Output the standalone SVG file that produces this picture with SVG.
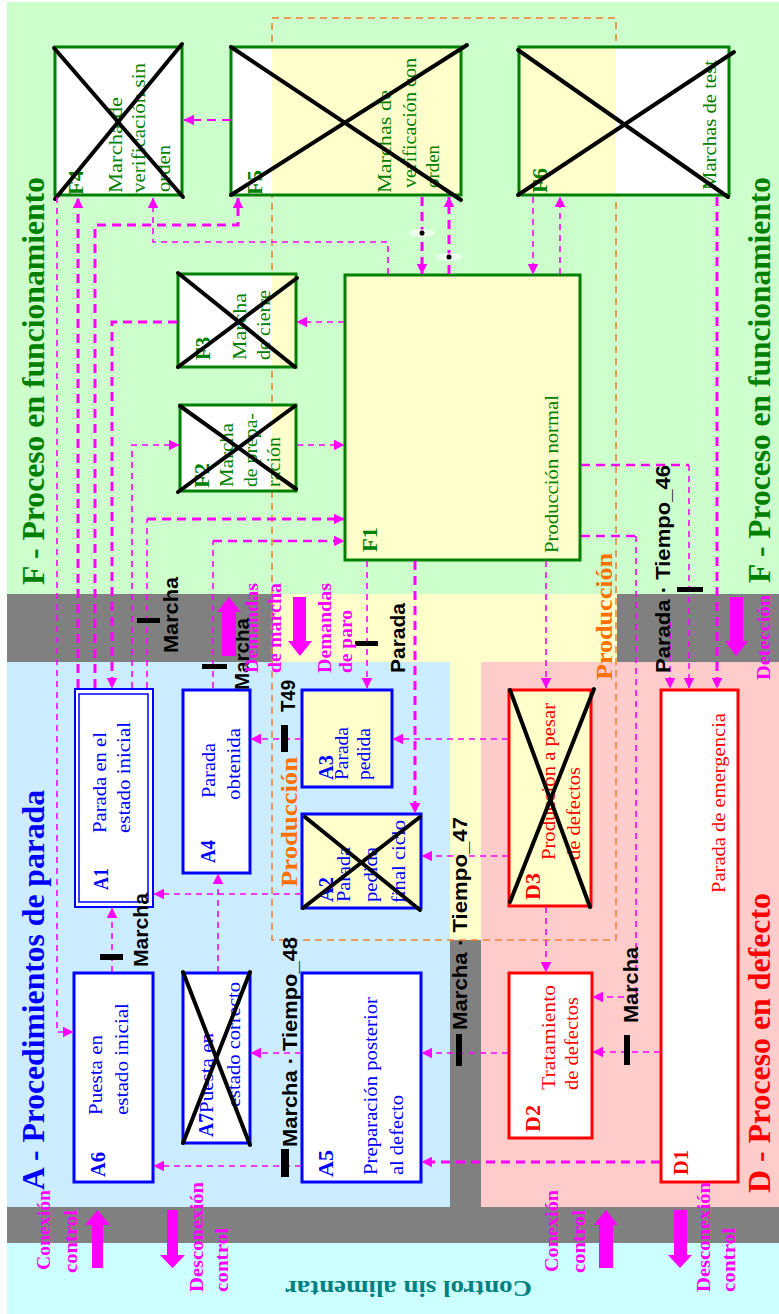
<svg xmlns="http://www.w3.org/2000/svg" width="779" height="1314" viewBox="0 0 779 1314">
<style>
.s{font-family:"Liberation Serif","Times New Roman",serif}
.ss{font-family:"Liberation Sans",Arial,sans-serif;font-weight:bold;font-size:20px;fill:#000}
.tg{fill:#008000;font-size:19px}
.tgb{fill:#008000;font-size:22px;font-weight:bold}
.tb{fill:#0000FF;font-size:19px}
.tbb{fill:#0000FF;font-size:21px;font-weight:bold}
.tr{fill:#FF0000;font-size:19px}
.trb{fill:#FF0000;font-size:21px;font-weight:bold}
.mg{fill:#FF00FF;font-size:19px;font-weight:bold}
.or{fill:#FF7000;font-size:23px;font-weight:bold}
.ti{font-size:31px;font-weight:bold}
.bx{stroke-width:3}
.fg{stroke:#008000}.fb{stroke:#0000FF}.fr{stroke:#FF0000}
.x{stroke:#000;stroke-width:4;stroke-linecap:round}
.c1{fill:none;stroke:#FF00FF;stroke-width:1.6;stroke-dasharray:6 5}
.c2{fill:none;stroke:#FF00FF;stroke-width:3;stroke-dasharray:9 6}
.bar{fill:#000}
.blk{fill:#FF00FF}
</style>
<defs>
<marker id="ah" viewBox="0 0 10 10" refX="9.5" refY="5" markerWidth="11" markerHeight="11" markerUnits="userSpaceOnUse" orient="auto"><path d="M0,0 L10,5 L0,10 z" fill="#FF00FF"/></marker>
</defs>

<g id="background">
<rect x="0" y="0" width="779" height="1314" fill="#FFFFFF"/>
<rect x="7" y="2" width="772" height="592" fill="#CCFFCC"/>
<rect x="7" y="594" width="266" height="68" fill="#808080"/>
<rect x="273" y="594" width="344" height="68" fill="#FFFFCC"/>
<rect x="617" y="594" width="162" height="68" fill="#808080"/>
<rect x="7" y="662" width="443" height="545" fill="#CCECFF"/>
<rect x="450" y="662" width="31" height="278" fill="#FFFFCC"/>
<rect x="450" y="940" width="31" height="267" fill="#808080"/>
<rect x="481" y="662" width="298" height="545" fill="#FFCCCC"/>
<rect x="7" y="1207" width="772" height="36" fill="#808080"/>
<rect x="7" y="1243" width="772" height="71" fill="#CCFFFF"/>
<rect x="272" y="18" width="344" height="922" fill="none" stroke="#F08030" stroke-width="1.5" stroke-dasharray="7 5"/>
</g>

<g id="titles" class="s">
<text class="ti" fill="#008000" transform="translate(44,585) rotate(-90)" textLength="408" lengthAdjust="spacingAndGlyphs">F - Proceso en funcionamiento</text>
<text class="ti" fill="#008000" transform="translate(770,583) rotate(-90)" textLength="406" lengthAdjust="spacingAndGlyphs">F - Proceso en funcionamiento</text>
<text class="ti" fill="#0000FF" transform="translate(44,1190) rotate(-90)" textLength="400" lengthAdjust="spacingAndGlyphs">A - Procedimientos de parada</text>
<text class="ti" fill="#FF0000" transform="translate(770,1193) rotate(-90)" textLength="300" lengthAdjust="spacingAndGlyphs">D - Proceso en defecto</text>
<text fill="#008080" font-size="23" font-weight="bold" transform="translate(532,1281) rotate(180)" textLength="247" lengthAdjust="spacingAndGlyphs">Control sin alimentar</text>
<text class="or" transform="translate(612,680) rotate(-90)" textLength="127" lengthAdjust="spacingAndGlyphs">Producción</text>
<text class="or" transform="translate(297,887) rotate(-90)" textLength="130" lengthAdjust="spacingAndGlyphs">Producción</text>
</g>

<g id="F4" class="s">
<rect x="55" y="47" width="127" height="148" fill="#FFFFFF" class="bx fg"/>
<text class="tgb" transform="translate(83,195) rotate(-90)" textLength="25" lengthAdjust="spacingAndGlyphs">F4</text>
<text class="tg" transform="translate(122,193) rotate(-90)" textLength="96" lengthAdjust="spacingAndGlyphs">Marcha de</text>
<text class="tg" transform="translate(145,193) rotate(-90)" textLength="130" lengthAdjust="spacingAndGlyphs">verificación sin</text>
<text class="tg" transform="translate(170,192) rotate(-90)" textLength="47" lengthAdjust="spacingAndGlyphs">orden</text>
<line x1="55" y1="199" x2="182" y2="44" class="x"/><line x1="54" y1="48" x2="183" y2="197" class="x"/>
</g>

<g id="F5" class="s">
<rect x="231" y="47" width="230" height="148" fill="#FFFFFF"/>
<rect x="272" y="47" width="189" height="148" fill="#FFFFCC"/>
<rect x="231" y="47" width="230" height="148" fill="none" class="bx fg"/>
<text class="tgb" transform="translate(262,195) rotate(-90)" textLength="25" lengthAdjust="spacingAndGlyphs">F5</text>
<text class="tg" transform="translate(391,193) rotate(-90)" textLength="103" lengthAdjust="spacingAndGlyphs">Marchas de</text>
<text class="tg" transform="translate(416,188) rotate(-90)" textLength="130" lengthAdjust="spacingAndGlyphs">verificación con</text>
<text class="tg" transform="translate(439,188) rotate(-90)" textLength="43" lengthAdjust="spacingAndGlyphs">orden</text>
<line x1="231" y1="195" x2="467" y2="45" class="x"/><line x1="231" y1="47" x2="461" y2="200" class="x"/>
</g>

<g id="F6" class="s">
<rect x="519" y="47" width="210" height="148" fill="#FFFFFF"/>
<rect x="519" y="47" width="97" height="148" fill="#FFFFCC"/>
<rect x="519" y="47" width="210" height="148" fill="none" class="bx fg"/>
<text class="tgb" transform="translate(547,193) rotate(-90)" textLength="25" lengthAdjust="spacingAndGlyphs">F6</text>
<text class="tg" transform="translate(716,190) rotate(-90)" textLength="130" lengthAdjust="spacingAndGlyphs">Marchas de test</text>
<line x1="518" y1="195" x2="734" y2="52" class="x"/><line x1="518" y1="50" x2="728" y2="197" class="x"/>
</g>

<g id="F3" class="s">
<rect x="178" y="274" width="118" height="93" fill="#FFFFFF"/>
<rect x="272" y="274" width="24" height="93" fill="#FFFFCC"/>
<rect x="178" y="274" width="118" height="93" fill="none" class="bx fg"/>
<text class="tgb" transform="translate(210,360) rotate(-90)" textLength="23" lengthAdjust="spacingAndGlyphs">F3</text>
<text class="tg" transform="translate(246,360) rotate(-90)" textLength="67" lengthAdjust="spacingAndGlyphs">Marcha</text>
<text class="tg" transform="translate(270,360) rotate(-90)" textLength="70" lengthAdjust="spacingAndGlyphs">de cierre</text>
<line x1="178" y1="367" x2="297" y2="278" class="x"/><line x1="178" y1="273" x2="295" y2="367" class="x"/>
</g>

<g id="F2" class="s">
<rect x="180" y="405" width="116" height="86" fill="#FFFFFF"/>
<rect x="272" y="405" width="24" height="86" fill="#FFFFCC"/>
<rect x="180" y="405" width="116" height="86" fill="none" class="bx fg"/>
<text class="tgb" transform="translate(209,488) rotate(-90)" textLength="25" lengthAdjust="spacingAndGlyphs">F2</text>
<text class="tg" transform="translate(233,487) rotate(-90)" textLength="64" lengthAdjust="spacingAndGlyphs">Marcha</text>
<text class="tg" transform="translate(257,487) rotate(-90)" textLength="74" lengthAdjust="spacingAndGlyphs">de prepa-</text>
<text class="tg" transform="translate(280,487) rotate(-90)" textLength="50" lengthAdjust="spacingAndGlyphs">ración</text>
<line x1="178" y1="492" x2="295" y2="406" class="x"/><line x1="180" y1="406" x2="296" y2="489" class="x"/>
</g>

<g id="F1" class="s">
<rect x="345" y="275" width="235" height="285" fill="#FFFFCC" class="bx fg"/>
<text class="tgb" transform="translate(377,552) rotate(-90)" textLength="25" lengthAdjust="spacingAndGlyphs">F1</text>
<text class="tg" transform="translate(558,553) rotate(-90)" textLength="158" lengthAdjust="spacingAndGlyphs">Producción normal</text>
</g>

<g id="A1" class="s">
<rect x="75" y="689" width="78" height="218" fill="#FFFFFF" stroke="#0000FF" stroke-width="2"/>
<rect x="79" y="694" width="69" height="208" fill="none" stroke="#0000FF" stroke-width="1.5"/>
<text class="tbb" transform="translate(108,890) rotate(-90)" textLength="22" lengthAdjust="spacingAndGlyphs">A1</text>
<text class="tb" transform="translate(106,833) rotate(-90)" textLength="101" lengthAdjust="spacingAndGlyphs">Parada en el</text>
<text class="tb" transform="translate(130,833) rotate(-90)" textLength="111" lengthAdjust="spacingAndGlyphs">estado inicial</text>
</g>

<g id="A4" class="s">
<rect x="183" y="690" width="67" height="183" fill="#FFFFFF" class="bx fb"/>
<text class="tbb" transform="translate(215,863) rotate(-90)" textLength="23" lengthAdjust="spacingAndGlyphs">A4</text>
<text class="tb" transform="translate(215,798) rotate(-90)" textLength="55" lengthAdjust="spacingAndGlyphs">Parada</text>
<text class="tb" transform="translate(240,800) rotate(-90)" textLength="72" lengthAdjust="spacingAndGlyphs">obtenida</text>
</g>

<g id="A3" class="s">
<rect x="302" y="690" width="90" height="97" fill="#FFFFCC" class="bx fb"/>
<text class="tbb" transform="translate(333,780) rotate(-90)" textLength="25" lengthAdjust="spacingAndGlyphs">A3</text>
<text class="tb" transform="translate(348,780) rotate(-90)" textLength="53" lengthAdjust="spacingAndGlyphs">Parada</text>
<text class="tb" transform="translate(370,780) rotate(-90)" textLength="52" lengthAdjust="spacingAndGlyphs">pedida</text>
</g>

<g id="A2" class="s">
<rect x="302" y="814" width="119" height="94" fill="#FFFFCC" class="bx fb"/>
<text class="tbb" transform="translate(333,902) rotate(-90)" textLength="25" lengthAdjust="spacingAndGlyphs">A2</text>
<text class="tb" transform="translate(350,902) rotate(-90)" textLength="55" lengthAdjust="spacingAndGlyphs">Parada</text>
<text class="tb" transform="translate(377,902) rotate(-90)" textLength="55" lengthAdjust="spacingAndGlyphs">pedida</text>
<text class="tb" transform="translate(405,903) rotate(-90)" textLength="83" lengthAdjust="spacingAndGlyphs">final ciclo</text>
<line x1="303" y1="908" x2="420" y2="817" class="x"/><line x1="305" y1="817" x2="420" y2="910" class="x"/>
</g>

<g id="A6" class="s">
<rect x="74" y="973" width="79" height="209" fill="#FFFFFF" class="bx fb"/>
<text class="tbb" transform="translate(105,1177) rotate(-90)" textLength="25" lengthAdjust="spacingAndGlyphs">A6</text>
<text class="tb" transform="translate(102,1115) rotate(-90)" textLength="80" lengthAdjust="spacingAndGlyphs">Puesta en</text>
<text class="tb" transform="translate(128,1115) rotate(-90)" textLength="112" lengthAdjust="spacingAndGlyphs">estado inicial</text>
</g>

<g id="A7" class="s">
<rect x="183" y="973" width="67" height="170" fill="#FFFFFF" class="bx fb"/>
<text class="tbb" transform="translate(213,1137) rotate(-90)" textLength="24" lengthAdjust="spacingAndGlyphs">A7</text>
<text class="tb" transform="translate(213,1113) rotate(-90)" textLength="80" lengthAdjust="spacingAndGlyphs">Puesta en</text>
<text class="tb" transform="translate(240,1107) rotate(-90)" textLength="125" lengthAdjust="spacingAndGlyphs">estado correcto</text>
<line x1="183" y1="1143" x2="250" y2="972" class="x"/><line x1="183" y1="972" x2="250" y2="1145" class="x"/>
</g>

<g id="A5" class="s">
<rect x="302" y="973" width="119" height="209" fill="#FFFFFF" class="bx fb"/>
<text class="tbb" transform="translate(333,1177) rotate(-90)" textLength="27" lengthAdjust="spacingAndGlyphs">A5</text>
<text class="tb" transform="translate(377,1175) rotate(-90)" textLength="178" lengthAdjust="spacingAndGlyphs">Preparación posterior</text>
<text class="tb" transform="translate(403,1175) rotate(-90)" textLength="80" lengthAdjust="spacingAndGlyphs">al defecto</text>
</g>

<g id="D3" class="s">
<rect x="509" y="690" width="82" height="216" fill="#FFFFCC" class="bx fr"/>
<text class="trb" transform="translate(540,900) rotate(-90)" textLength="27" lengthAdjust="spacingAndGlyphs">D3</text>
<text class="tr" transform="translate(555,860) rotate(-90)" textLength="157" lengthAdjust="spacingAndGlyphs">Producción a pesar</text>
<text class="tr" transform="translate(580,860) rotate(-90)" textLength="93" lengthAdjust="spacingAndGlyphs">de defectos</text>
<line x1="510" y1="902" x2="594" y2="689" class="x"/><line x1="510" y1="690" x2="590" y2="907" class="x"/>
</g>

<g id="D2" class="s">
<rect x="509" y="973" width="83" height="165" fill="#FFFFFF" class="bx fr"/>
<text class="trb" transform="translate(540,1132) rotate(-90)" textLength="27" lengthAdjust="spacingAndGlyphs">D2</text>
<text class="tr" transform="translate(555,1090) rotate(-90)" textLength="105" lengthAdjust="spacingAndGlyphs">Tratamiento</text>
<text class="tr" transform="translate(578,1090) rotate(-90)" textLength="93" lengthAdjust="spacingAndGlyphs">de defectos</text>
</g>

<g id="D1" class="s">
<rect x="661" y="690" width="77" height="492" fill="#FFFFFF" class="bx fr"/>
<text class="trb" transform="translate(688,1175) rotate(-90)" textLength="25" lengthAdjust="spacingAndGlyphs">D1</text>
<text class="tr" transform="translate(725,893) rotate(-90)" textLength="180" lengthAdjust="spacingAndGlyphs">Parada de emergencia</text>
</g>

<g id="connectors">
<path class="c2" d="M231,120 H184" style="stroke-width:2.2" marker-end="url(#ah)"/>
<path class="c1" d="M57,197 V1032 H73" marker-end="url(#ah)"/>
<path class="c2" d="M78,688 V198" marker-end="url(#ah)"/>
<path class="c2" d="M95,688 V225 H238 V198" marker-end="url(#ah)"/>
<path class="c1" d="M388,274 V242 H153 V198" marker-end="url(#ah)"/>
<path class="c2" d="M177,322 H112 V688" marker-end="url(#ah)"/>
<path class="c1" d="M132,688 V445 H179" marker-end="url(#ah)"/>
<path class="c1" d="M297,445 H344" marker-end="url(#ah)"/>
<path class="c1" d="M344,322 H297" marker-end="url(#ah)"/>
<path class="c1" d="M147,688 V519"/>
<path class="c2" d="M147,519 H344" marker-end="url(#ah)"/>
<path class="c1" d="M213,688 V541"/>
<path class="c2" d="M213,541 H344" style="stroke-width:2.4" marker-end="url(#ah)"/>
<path class="c2" d="M422,197 V274" marker-end="url(#ah)"/>
<path class="c2" d="M449,274 V197" marker-end="url(#ah)"/>
<path class="c1" d="M533,197 V274" marker-end="url(#ah)"/>
<path class="c1" d="M560,274 V197" marker-end="url(#ah)"/>
<path class="c2" d="M717,197 V688" marker-end="url(#ah)"/>
<path class="c2" d="M581,465 H689" style="stroke-width:2.4"/>
<path class="c1" d="M689,465 V688" marker-end="url(#ah)"/>
<path class="c2" d="M581,536 H636" style="stroke-width:2.4"/>
<path class="c1" d="M636,536 V997 H593" marker-end="url(#ah)"/>
<path class="c1" d="M670,622 V688" marker-end="url(#ah)"/>
<path class="c1" d="M367,561 V688" marker-end="url(#ah)"/>
<path class="c2" d="M415,561 V813" marker-end="url(#ah)"/>
<path class="c1" d="M546,561 V688" marker-end="url(#ah)"/>
<path class="c1" d="M508,739 H393" marker-end="url(#ah)"/>
<path class="c1" d="M508,856 H422" marker-end="url(#ah)"/>
<path class="c1" d="M546,907 V972" marker-end="url(#ah)"/>
<path class="c1" d="M508,1053 H422" marker-end="url(#ah)"/>
<path class="c1" d="M660,1052 H593" marker-end="url(#ah)"/>
<path class="c2" d="M660,1162 H422" marker-end="url(#ah)"/>
<path class="c1" d="M301,739 H251" marker-end="url(#ah)"/>
<path class="c1" d="M301,894 H154" marker-end="url(#ah)"/>
<path class="c1" d="M218,972 V874" marker-end="url(#ah)"/>
<path class="c1" d="M112,972 V908" marker-end="url(#ah)"/>
<path class="c1" d="M301,1166 H154" marker-end="url(#ah)"/>
<path class="c1" d="M301,1053 H251" marker-end="url(#ah)"/>
<ellipse cx="422" cy="233" rx="13" ry="4" fill="#FFFFFF" opacity="0.6"/>
<circle cx="422" cy="233" r="2.5" fill="#000"/>
<ellipse cx="449" cy="257" rx="13" ry="4" fill="#FFFFFF" opacity="0.6"/>
<circle cx="449" cy="257" r="2.5" fill="#000"/>
</g>

<g id="transitions">
<rect class="bar" x="137" y="618" width="23" height="5"/>
<rect class="bar" x="202" y="664" width="25" height="5"/>
<rect class="bar" x="355" y="641" width="23" height="5"/>
<rect class="bar" x="677" y="587" width="26" height="5"/>
<rect class="bar" x="281" y="725" width="7" height="27"/>
<rect class="bar" x="100" y="954" width="23" height="6"/>
<rect class="bar" x="281" y="1149" width="8" height="28"/>
<rect class="bar" x="456" y="1034" width="6" height="32"/>
<rect class="bar" x="624" y="1035" width="6" height="30"/>
<text class="ss" transform="translate(178,653) rotate(-90)" textLength="76" lengthAdjust="spacingAndGlyphs">Marcha</text>
<text class="ss" transform="translate(249,690) rotate(-90)" textLength="72" lengthAdjust="spacingAndGlyphs">Marcha</text>
<text class="ss" transform="translate(405,673) rotate(-90)" textLength="70" lengthAdjust="spacingAndGlyphs">Parada</text>
<text class="ss" transform="translate(670,673) rotate(-90)" textLength="208" lengthAdjust="spacingAndGlyphs">Parada · Tiempo_46</text>
<text class="ss" transform="translate(295,712) rotate(-90)" textLength="32" lengthAdjust="spacingAndGlyphs">T49</text>
<text class="ss" transform="translate(148,967) rotate(-90)" textLength="74" lengthAdjust="spacingAndGlyphs">Marcha</text>
<text class="ss" transform="translate(297,1147) rotate(-90)" textLength="210" lengthAdjust="spacingAndGlyphs">Marcha · Tiempo_48</text>
<text class="ss" transform="translate(467,1030) rotate(-90)" textLength="213" lengthAdjust="spacingAndGlyphs">Marcha · Tiempo_47</text>
<text class="ss" transform="translate(638,1023) rotate(-90)" textLength="76" lengthAdjust="spacingAndGlyphs">Marcha</text>
</g>

<g id="band-labels" class="s">
<polygon class="blk" points="222,656 236,656 236,612 241,612 229,597 217,612 222,612"/>
<polygon class="blk" points="293,597 306,597 306,641 312,641 300,656 288,641 293,641"/>
<polygon class="blk" points="730,597 743,597 743,641 748,641 736,656 725,641 730,641"/>
<polygon class="blk" points="92,1268 103,1268 103,1225 110,1225 97.5,1210 85,1225 92,1225"/>
<polygon class="blk" points="167,1210 178,1210 178,1255 185,1255 172.5,1268 160,1255 167,1255"/>
<polygon class="blk" points="599,1268 613,1268 613,1225 618,1225 606,1210 594,1225 599,1225"/>
<polygon class="blk" points="674,1210 687,1210 687,1255 692,1255 680,1268 668,1255 674,1255"/>
<text class="mg" transform="translate(258,673) rotate(-90)" textLength="90" lengthAdjust="spacingAndGlyphs">Demandas</text>
<text class="mg" transform="translate(281,673) rotate(-90)" textLength="90" lengthAdjust="spacingAndGlyphs">de marcha</text>
<text class="mg" transform="translate(331,673) rotate(-90)" textLength="90" lengthAdjust="spacingAndGlyphs">Demandas</text>
<text class="mg" transform="translate(352,673) rotate(-90)" textLength="63" lengthAdjust="spacingAndGlyphs">de paro</text>
<text class="mg" transform="translate(770,680) rotate(-90)" textLength="85" lengthAdjust="spacingAndGlyphs">Detección</text>
<text class="mg" transform="translate(50,1270) rotate(-90)" textLength="80" lengthAdjust="spacingAndGlyphs">Conexión</text>
<text class="mg" transform="translate(77,1273) rotate(-90)" textLength="63" lengthAdjust="spacingAndGlyphs">control</text>
<text class="mg" transform="translate(203,1292) rotate(-90)" textLength="110" lengthAdjust="spacingAndGlyphs">Desconexión</text>
<text class="mg" transform="translate(228,1292) rotate(-90)" textLength="64" lengthAdjust="spacingAndGlyphs">control</text>
<text class="mg" transform="translate(558,1272) rotate(-90)" textLength="82" lengthAdjust="spacingAndGlyphs">Conexión</text>
<text class="mg" transform="translate(585,1273) rotate(-90)" textLength="63" lengthAdjust="spacingAndGlyphs">control</text>
<text class="mg" transform="translate(710,1292) rotate(-90)" textLength="110" lengthAdjust="spacingAndGlyphs">Desconexión</text>
<text class="mg" transform="translate(735,1292) rotate(-90)" textLength="64" lengthAdjust="spacingAndGlyphs">control</text>
</g>
</svg>
